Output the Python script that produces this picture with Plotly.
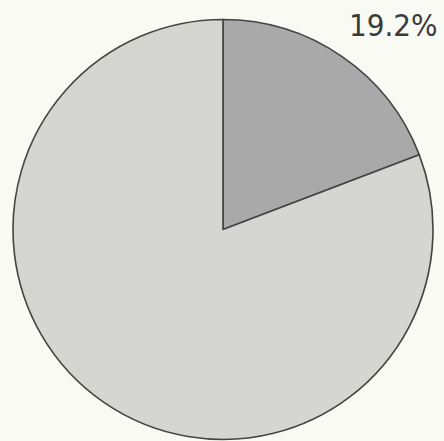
import plotly.graph_objects as go

labels = ["A", "B"]
values = [19.2, 80.8]
colors = ["#a9a9a9", "#d5d6d2"]

W, H = 444, 441
cx, cy, r = 223, 229.5, 210

fig = go.Figure(go.Pie(
    labels=labels,
    values=values,
    sort=False,
    direction="clockwise",
    rotation=0,
    textinfo="none",
    hoverinfo="none",
    marker=dict(colors=colors, line=dict(color="#444444", width=1.6)),
    domain=dict(x=[(cx - r) / W, (cx + r) / W],
                y=[(H - cy - r) / H, (H - cy + r) / H]),
    showlegend=False,
))

fig.add_annotation(
    text=f"{values[0]:.1f}%",
    x=440 / W, y=1 - 25 / H, xref="paper", yref="paper",
    xanchor="right", yanchor="middle", showarrow=False,
    font=dict(family="DejaVu Sans Condensed, Liberation Sans Narrow, sans-serif", size=31, color="#3a3a3a"),
)

fig.update_layout(
    width=W, height=H,
    margin=dict(l=0, r=0, t=0, b=0),
    paper_bgcolor="#fafaf4",
    plot_bgcolor="#fafaf4",
)

fig.write_html(
    "out.html",
    config={"displayModeBar": False},
    post_script="document.body.style.margin='0';document.body.style.background='#fafaf4';",
)
